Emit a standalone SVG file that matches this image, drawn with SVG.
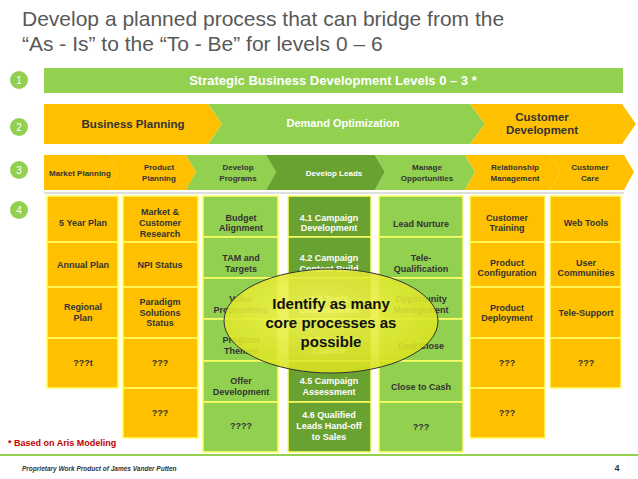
<svg xmlns="http://www.w3.org/2000/svg" width="638" height="479" viewBox="0 0 638 479">
<defs>
<radialGradient id="eg" cx="0.45" cy="0.4" r="0.6"><stop offset="0" stop-color="#F4F75A"/><stop offset="1" stop-color="#D9E21E"/></radialGradient>
</defs>
<style>
text{font-family:"Liberation Sans",Arial,sans-serif;font-weight:bold;text-anchor:middle}
.o{fill:#FFC000;stroke:#FFFF66;stroke-width:1.5}
.g{fill:#92D050;stroke:#FFFF66;stroke-width:1.5}
.d{fill:#6AA232;stroke:#FFFF66;stroke-width:1.5}
.c text,.c{font-size:9px}
.t{fill:#333}
.w{fill:#fff}
.num{fill:#92D050}
.nt{fill:#fff;font-size:10px;font-weight:normal}
</style>
<rect width="638" height="479" fill="#fff"/>
<text x="22" y="26" style="text-anchor:start;font-weight:normal;font-size:21px" fill="#595959">Develop a planned process that can bridge from the</text>
<text x="22" y="51" style="text-anchor:start;font-weight:normal;font-size:21px" fill="#595959">“As - Is”  to the “To - Be” for levels 0 – 6</text>
<g id="levels">
<circle class="num" cx="19" cy="80" r="9"/><text class="nt" x="19" y="84">1</text>
<circle class="num" cx="19" cy="127" r="9"/><text class="nt" x="19" y="131">2</text>
<circle class="num" cx="19" cy="170" r="9"/><text class="nt" x="19" y="174">3</text>
<circle class="num" cx="19" cy="210" r="9"/><text class="nt" x="19" y="214">4</text>
</g>
<g id="banner1"><rect x="44" y="68" width="579" height="25" fill="#92D050"/><text class="w" x="333" y="85" font-size="13">Strategic Business Development Levels 0 – 3 *</text></g>
<g id="row2">
<polygon points="44,104 208,104 222,124 208,144 44,144" fill="#FFC000"/>
<polygon points="208,104 470,104 485,124 470,144 208,144 222,124" fill="#92D050"/>
<polygon points="470,104 622,104 636,124 622,144 470,144 485,124" fill="#FFC000"/>
<text class="t" x="133" y="128" font-size="11.5">Business Planning</text>
<text class="w" x="343" y="127" font-size="11">Demand Optimization</text>
<text class="t" x="542" y="121" font-size="11.5">Customer</text><text class="t" x="542" y="134" font-size="11.5">Development</text>
</g>
<g id="row3" font-size="8">
<polygon points="44,155 108,155 118,172 108,190 44,190" fill="#FFC000"/>
<polygon points="108,155 186,155 196,172 186,190 108,190 118,172" fill="#FFC000"/>
<polygon points="186,155 266,155 276,172 266,190 186,190 196,172" fill="#92D050"/>
<polygon points="266,155 375,155 385,172 375,190 266,190 276,172" fill="#6AA232"/>
<polygon points="375,155 465,155 475,172 465,190 375,190 385,172" fill="#92D050"/>
<polygon points="465,155 550,155 560,172 550,190 465,190 475,172" fill="#FFC000"/>
<polygon points="550,155 624,155 634,172 624,190 550,190 560,172" fill="#FFC000"/>
<text class="t" x="80" y="176" font-size="8">Market Planning</text>
<text class="t" x="159" y="170" font-size="8">Product</text><text class="t" x="159" y="181" font-size="8">Planning</text>
<text class="w" x="238" y="170" font-size="8" fill="#333" style="fill:#333">Develop</text><text class="t" x="238" y="181" font-size="8">Programs</text>
<text class="w" x="334" y="176" font-size="8">Develop Leads</text>
<text class="t" x="427" y="170" font-size="8">Manage</text><text class="t" x="427" y="181" font-size="8">Opportunities</text>
<text class="t" x="515" y="170" font-size="8">Relationship</text><text class="t" x="515" y="181" font-size="8">Management</text>
<text class="t" x="590" y="170" font-size="8">Customer</text><text class="t" x="590" y="181" font-size="8">Care</text>
<line x1="44" y1="193" x2="624" y2="193" stroke="#BBB" stroke-width="1"/>
</g>
<g id="col1" class="c">
<rect class="o" x="47" y="196" width="71" height="46"/><rect class="o" x="47" y="242" width="71" height="45"/><rect class="o" x="47" y="287" width="71" height="51"/><rect class="o" x="47" y="338" width="71" height="50"/>
<text class="t" x="83" y="226">5 Year Plan</text><text class="t" x="83" y="268">Annual Plan</text><text class="t" x="83" y="310">Regional</text><text class="t" x="83" y="321">Plan</text><text class="t" x="83" y="366">???t</text>
</g>
<g id="col2" class="c">
<rect class="o" x="123" y="196" width="75" height="46"/><rect class="o" x="123" y="242" width="75" height="45"/><rect class="o" x="123" y="287" width="75" height="51"/><rect class="o" x="123" y="338" width="75" height="50"/><rect class="o" x="123" y="388" width="75" height="50"/>
<text class="t" x="160" y="215">Market &amp;</text><text class="t" x="160" y="226">Customer</text><text class="t" x="160" y="237">Research</text>
<text class="t" x="160" y="268">NPI Status</text>
<text class="t" x="160" y="305">Paradigm</text><text class="t" x="160" y="316">Solutions</text><text class="t" x="160" y="326">Status</text>
<text class="t" x="160" y="366">???</text><text class="t" x="160" y="416">???</text>
</g>
<g id="col3" class="c">
<rect class="g" x="203" y="196" width="75" height="41"/><rect class="g" x="203" y="237" width="75" height="41"/><rect class="g" x="203" y="278" width="75" height="41"/><rect class="g" x="203" y="319" width="75" height="42"/><rect class="g" x="203" y="361" width="75" height="41"/><rect class="g" x="203" y="402" width="75" height="50"/>
<text class="t" x="241" y="221">Budget</text><text class="t" x="241" y="231">Alignment</text>
<text class="t" x="241" y="261">TAM and</text><text class="t" x="241" y="272">Targets</text>
<text class="t" x="241" y="302">Value</text><text class="t" x="241" y="313">Propositions</text>
<text class="t" x="241" y="343">Program</text><text class="t" x="241" y="354">Themes</text>
<text class="t" x="241" y="384">Offer</text><text class="t" x="241" y="395">Development</text>
<text class="t" x="241" y="429">????</text>
</g>
<g id="col4" class="c">
<rect class="d" x="288" y="196" width="83" height="41"/><rect class="d" x="288" y="237" width="83" height="41"/><rect class="d" x="288" y="278" width="83" height="41"/><rect class="d" x="288" y="319" width="83" height="42"/><rect class="d" x="288" y="361" width="83" height="41"/><rect class="d" x="288" y="402" width="83" height="50"/>
<text class="w" x="329" y="221">4.1  Campaign</text><text class="w" x="329" y="231">Development</text>
<text class="w" x="329" y="261">4.2  Campaign</text><text class="w" x="329" y="272">Content Build</text>
<text class="w" x="329" y="302">4.3  Tools</text><text class="w" x="329" y="313">Orchestration</text>
<text class="w" x="329" y="343">4.4  Campaign</text><text class="w" x="329" y="354">Launch</text>
<text class="w" x="329" y="384">4.5  Campaign</text><text class="w" x="329" y="395">Assessment</text>
<text class="w" x="329" y="418">4.6  Qualified</text><text class="w" x="329" y="429">Leads Hand-off</text><text class="w" x="329" y="440">to Sales</text>
</g>
<g id="col5" class="c">
<rect class="g" x="379" y="196" width="84" height="41"/><rect class="g" x="379" y="237" width="84" height="41"/><rect class="g" x="379" y="278" width="84" height="41"/><rect class="g" x="379" y="319" width="84" height="42"/><rect class="g" x="379" y="361" width="84" height="41"/><rect class="g" x="379" y="402" width="84" height="50"/>
<text class="t" x="421" y="227">Lead Nurture</text>
<text class="t" x="421" y="261">Tele-</text><text class="t" x="421" y="272">Qualification</text>
<text class="t" x="421" y="302">Opportunity</text><text class="t" x="421" y="313">Management</text>
<text class="t" x="421" y="349">Deal Close</text>
<text class="t" x="421" y="390">Close to Cash</text>
<text class="t" x="421" y="430">???</text>
</g>
<g id="col6" class="c">
<rect class="o" x="470" y="196" width="75" height="46"/><rect class="o" x="470" y="242" width="75" height="45"/><rect class="o" x="470" y="287" width="75" height="51"/><rect class="o" x="470" y="338" width="75" height="50"/><rect class="o" x="470" y="388" width="75" height="50"/>
<text class="t" x="507" y="221">Customer</text><text class="t" x="507" y="231">Training</text>
<text class="t" x="507" y="266">Product</text><text class="t" x="507" y="276">Configuration</text>
<text class="t" x="507" y="311">Product</text><text class="t" x="507" y="321">Deployment</text>
<text class="t" x="507" y="366">???</text><text class="t" x="507" y="416">???</text>
</g>
<g id="col7" class="c">
<rect class="o" x="550" y="196" width="71" height="46"/><rect class="o" x="550" y="242" width="71" height="45"/><rect class="o" x="550" y="287" width="71" height="51"/><rect class="o" x="550" y="338" width="71" height="50"/>
<text class="t" x="586" y="226">Web Tools</text>
<text class="t" x="586" y="266">User</text><text class="t" x="586" y="276">Communities</text>
<text class="t" x="586" y="316">Tele-Support</text>
<text class="t" x="586" y="366">???</text>
</g>
<g id="callout">
<ellipse cx="331" cy="321" rx="107" ry="52" fill="url(#eg)" fill-opacity="0.88" stroke="#333" stroke-width="1"/>
<text x="331" y="309" font-size="15" fill="#111">Identify as many</text>
<text x="331" y="328" font-size="15" fill="#111">core processes as</text>
<text x="331" y="347" font-size="15" fill="#111">possible</text>
</g>
<text x="8" y="446" style="text-anchor:start" font-size="9" fill="#C00000">* Based on Aris Modeling</text>
<line x1="0" y1="455" x2="638" y2="455" stroke="#92D050" stroke-width="2"/>
<text x="22" y="471" style="text-anchor:start;font-style:italic" font-size="6.5" fill="#333">Proprietary Work Product of James Vander Putten</text>
<text x="617" y="471" font-size="9" fill="#333">4</text>
</svg>
